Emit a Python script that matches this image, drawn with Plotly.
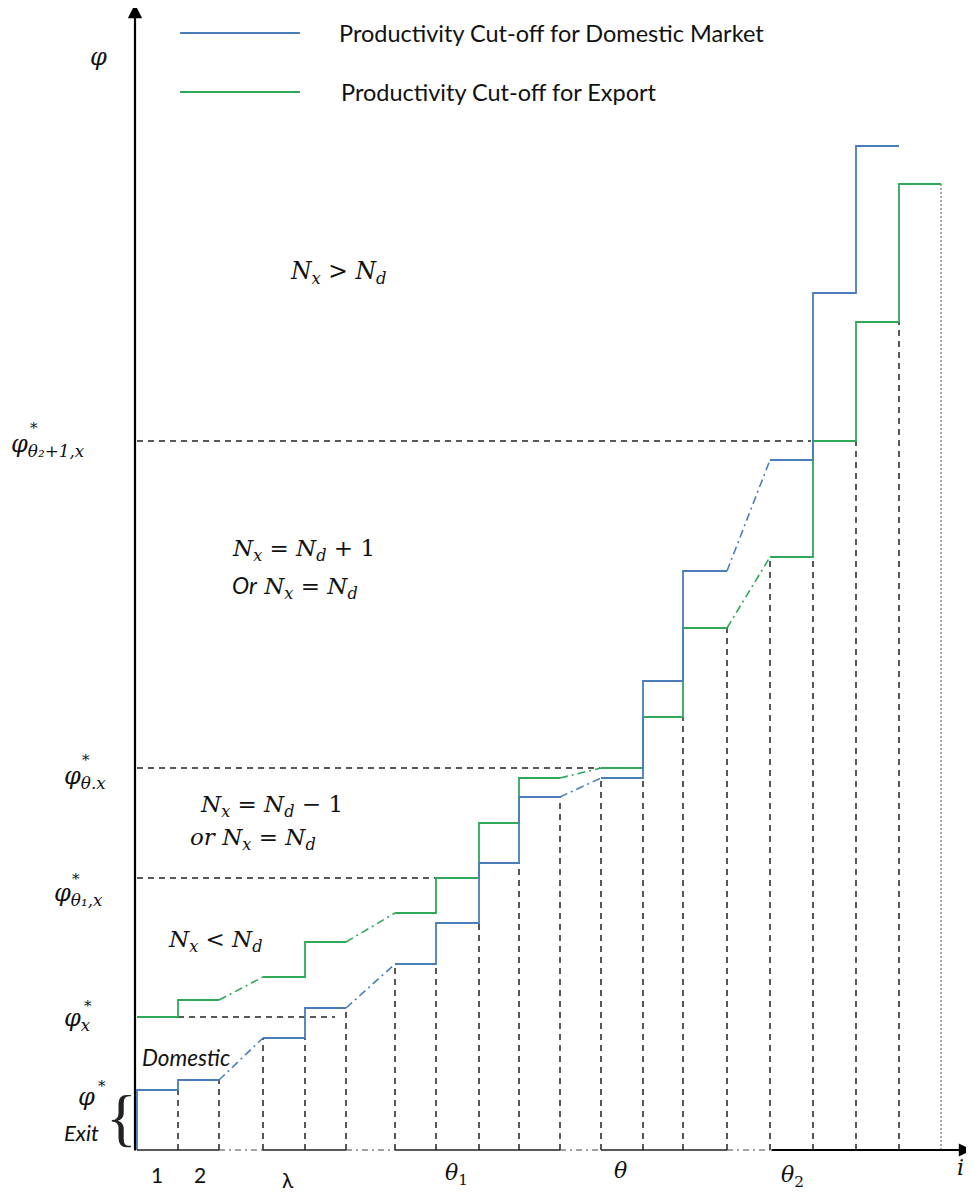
import plotly.graph_objects as go

W, H = 974, 1193
PAGE_PAD = 8  # the page body margin shifts the figure; ranges start there so units match the reference pixels
axis_x, axis_y = 135, 1150

# group boundaries along i and cut-off level of each group (diagram units, y grows downward)
bounds = [137, 178, 219, 263, 305, 346, 395, 436, 479, 519, 560, 601, 643, 683, 727, 770, 813, 856, 899, 941]
dom_level = [1090, 1080, None, 1038, 1008, None, 964, 923, 863, 797, None, 778, 681, 571, None, 460, 293, 146, None]
exp_level = [1017, 1000, None, 977, 942, None, 913, 878, 823, 778, None, 768, 717, 628, None, 557, 441, 322, 184]
gap_segments = [2, 5, 10, 14]

# horizontal reference cut-offs: export level of a group, drawn from x_from to x_to
ref_group = [16, 11, 7, 0]
ref_from = [137, 137, 137, 178]
ref_to = [811, 600, 438, 335]

BLUE = '#4A7EBB'
GREEN = '#2FA85A'
MATH = 'DejaVu Serif'
SANS = 'Lato'

fig = go.Figure()

def add_line(x, y, color, width=1.8, dash=None, shape='linear'):
    fig.add_trace(go.Scatter(
        x=x, y=y, mode='lines', hoverinfo='skip', showlegend=False,
        line={'color': color, 'width': width, 'dash': dash, 'shape': shape}
    ))

# dashed verticals from the axis up to the lower cut-off at each boundary
for k in range(1, len(bounds)):
    lv = []
    for s in (k - 1, k):
        if 0 <= s < len(dom_level):
            lv += [v for v in (dom_level[s], exp_level[s]) if v is not None]
    if not lv:
        continue
    last = k == len(bounds) - 1
    add_line([bounds[k], bounds[k]], [axis_y, max(lv)], '#555' if last else '#222',
             width=1 if last else 1.5, dash='2px,2px' if last else '6px,5px')

# horizontal dashed reference lines
for g, x0, x1 in zip(ref_group, ref_from, ref_to):
    add_line([x0, x1], [exp_level[g], exp_level[g]], '#222', width=1.5, dash='6px,5px')

# step lines for both cut-offs
def add_steps(levels, color, start_from_axis=False):
    run = []
    for s in range(len(levels) + 1):
        if s < len(levels) and levels[s] is not None:
            run.append(s)
            continue
        if run:
            xs = [bounds[i] for i in run] + [bounds[run[-1] + 1]]
            ys = [levels[i] for i in run] + [levels[run[-1]]]
            if start_from_axis and run[0] == 0:
                xs = [bounds[0]] + xs
                ys = [axis_y] + ys
            add_line(xs, ys, color, width=1.8, shape='hv')
        run = []
    for g in gap_segments:
        add_line([bounds[g], bounds[g + 1]], [levels[g - 1], levels[g + 1]], color,
                 width=1.6, dash='8px,4px,2px,4px')

add_steps(exp_level, GREEN)
add_steps(dom_level, BLUE, start_from_axis=True)

# horizontal axis: solid pieces, dash-dot across the gaps
for s in range(len(bounds) - 1):
    if s in gap_segments:
        add_line([bounds[s], bounds[s + 1]], [axis_y, axis_y], '#444', width=1.2, dash='6px,4px,2px,4px')
    elif s < gap_segments[-1]:
        add_line([bounds[s], bounds[s + 1]], [axis_y, axis_y], '#222', width=1.6)

# legend keys
for yk, c in ((33, BLUE), (92, GREEN)):
    fig.add_shape(type='line', x0=180, x1=300, y0=yk, y1=yk, line={'color': c, 'width': 1.8})

annotations = [
    # axes with arrowheads
    dict(x=axis_x, y=4, ax=axis_x, ay=axis_y + 2, axref='x', ayref='y', text='', showarrow=True,
         arrowhead=2, arrowsize=1.3, arrowwidth=2.2, arrowcolor='black', standoff=0),
    dict(x=972, y=axis_y, ax=bounds[gap_segments[-1] + 1], ay=axis_y, axref='x', ayref='y', text='',
         showarrow=True, arrowhead=2, arrowsize=1.2, arrowwidth=2.2, arrowcolor='black', standoff=0),
]

def txt(text, x, y, size=22, family=MATH, xanchor='center', color='#111'):
    annotations.append(dict(text=text, x=x, y=y, xref='x', yref='y', showarrow=False,
                            xanchor=xanchor, yanchor='middle',
                            font={'family': family, 'size': size, 'color': color}))

txt('Productivity Cut-off for Domestic Market', 337, 33, size=23.5, family=SANS, xanchor='left')
txt('Productivity Cut-off for Export', 339, 92, size=23.5, family=SANS, xanchor='left')

txt('<i>φ</i>', 98, 57, size=24)
txt('<i>N<sub>x</sub></i> &gt; <i>N<sub>d</sub></i>', 338, 272, size=23.5)

# cut-off labels on the vertical axis
txt('<i>φ<sub>θ₂+1,x</sub></i>', 9, 445, size=24, xanchor='left')
txt('<i>φ<sub>θ.x</sub></i>', 62, 777, size=24, xanchor='left')
txt('<i>φ<sub>θ₁,x</sub></i>', 52, 894, size=24, xanchor='left')
txt('<i>φ<sub>x</sub></i>', 62, 1019, size=24, xanchor='left')
txt('<i>φ</i>', 86, 1097, size=24)
for sx, sy in ((34, 428), (86, 760), (76, 879), (88, 1006), (102, 1086)):
    txt('*', sx, sy, size=15)

txt('<i>N<sub>x</sub></i> = <i>N<sub>d</sub></i> + 1', 230, 550, size=23, xanchor='left')
txt('<i><span style="font-family:Lato">Or</span> N<sub>x</sub></i> = <i>N<sub>d</sub></i>', 230, 587, size=23, xanchor='left')
txt('<i>N<sub>x</sub></i> = <i>N<sub>d</sub></i> − 1', 198, 806, size=23, xanchor='left')
txt('<i>or N<sub>x</sub></i> = <i>N<sub>d</sub></i>', 188, 839, size=23, xanchor='left')
txt('<i>N<sub>x</sub></i> &lt; <i>N<sub>d</sub></i>', 166, 941, size=23, xanchor='left')

txt('<i>Domestic</i>', 140, 1057, size=22.5, family=SANS, xanchor='left')
txt('<i>Exit</i>', 62, 1132, size=22, family=SANS, xanchor='left')
txt('{', 121, 1117, size=64, family='Liberation Serif', color='#222')

# group labels under the axis
txt('1', 157, 1174, size=21, family=SANS)
txt('2', 200, 1174, size=21, family=SANS)
txt('λ', 288, 1179, size=21, family=SANS)
txt('<i>θ</i><sub>1</sub>', 456, 1174, size=22)
txt('<i>θ</i>', 620, 1170, size=22)
txt('<i>θ</i><sub>2</sub>', 792, 1176, size=22)
txt('<i>i</i>', 960, 1167, size=22)

fig.update_layout(
    width=W - PAGE_PAD, height=H - PAGE_PAD,
    margin={'l': 0, 'r': 0, 't': 0, 'b': 0},
    plot_bgcolor='white', paper_bgcolor='white',
    showlegend=False,
    xaxis={'range': [PAGE_PAD, W], 'visible': False, 'fixedrange': True},
    yaxis={'range': [H, PAGE_PAD], 'visible': False, 'fixedrange': True},
    annotations=annotations,
)

fig.write_html('out.html')
